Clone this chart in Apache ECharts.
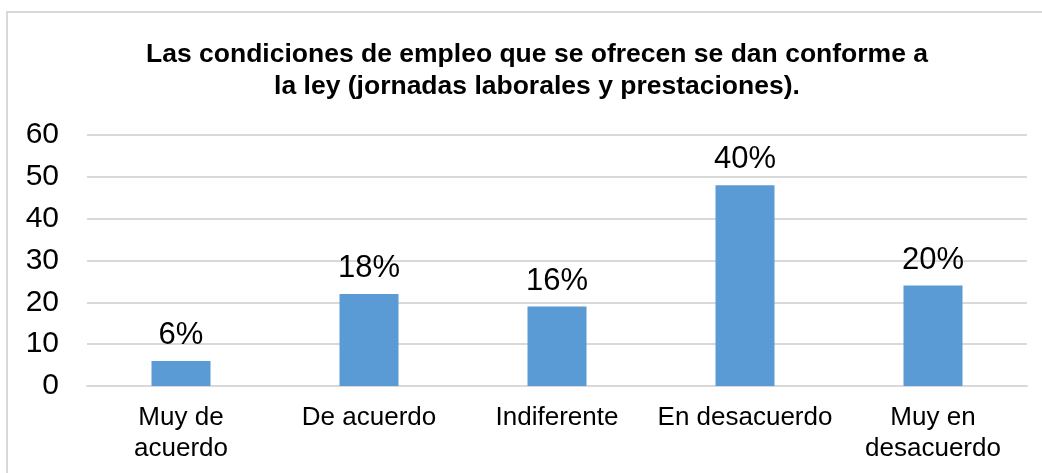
<!DOCTYPE html>
<html>
<head>
<meta charset="utf-8">
<style>
  html, body { margin: 0; padding: 0; background: #ffffff; }
  #chart { width: 1042px; height: 473px; }
</style>
<script src="https://cdn.jsdelivr.net/npm/echarts@6/dist/echarts.min.js"></script>
</head>
<body>
<div id="chart"></div>
<script>
// Survey answers and the number of respondents per answer
const categories = ['Muy de\nacuerdo', 'De acuerdo', 'Indiferente', 'En desacuerdo', 'Muy en\ndesacuerdo'];
const counts = [6, 22, 19, 48, 24];
// Share of respondents shown above each bar
const shareLabels = ['6%', '18%', '16%', '40%', '20%'];
const yTicks = { min: 0, max: 60, interval: 10 };

const titleText = 'Las condiciones de empleo que se ofrecen se dan conforme a\nla ley (jornadas laborales y prestaciones).';
const font = '"Liberation Sans", Arial, sans-serif';

const chart = echarts.init(document.getElementById('chart'), null, { renderer: 'canvas' });
chart.setOption({
  backgroundColor: '#ffffff',
  animation: false,
  graphic: [{
    type: 'rect',
    shape: { x: 7, y: 12, width: 1200, height: 600 },
    style: { fill: 'none', stroke: '#d9d9d9', lineWidth: 2 },
    silent: true,
    z: -1
  }],
  title: {
    text: titleText,
    left: 532,
    textAlign: 'center',
    top: 34,
    textStyle: {
      fontFamily: font,
      fontSize: 26.5,
      fontWeight: 'bold',
      color: '#000000',
      lineHeight: 32
    }
  },
  grid: { left: 87, right: 15, top: 135, bottom: 87 },
  xAxis: {
    type: 'category',
    data: categories,
    axisLine: { lineStyle: { color: '#d9d9d9', width: 2 } },
    axisTick: { show: false },
    axisLabel: {
      interval: 0,
      margin: 16,
      fontFamily: font,
      fontSize: 26,
      color: '#000000',
      lineHeight: 31
    }
  },
  yAxis: {
    type: 'value',
    min: yTicks.min,
    max: yTicks.max,
    interval: yTicks.interval,
    axisLine: { show: false },
    axisTick: { show: false },
    splitLine: { lineStyle: { color: '#d9d9d9', width: 2 } },
    axisLabel: {
      margin: 28,
      fontFamily: font,
      fontSize: 30,
      color: '#000000'
    }
  },
  series: [{
    type: 'bar',
    data: counts,
    barWidth: 59,
    itemStyle: { color: '#5b9bd5' },
    label: {
      show: true,
      position: 'top',
      distance: 10,
      fontFamily: font,
      fontSize: 31,
      color: '#000000',
      formatter: p => shareLabels[p.dataIndex]
    }
  }]
});
</script>
</body>
</html>
